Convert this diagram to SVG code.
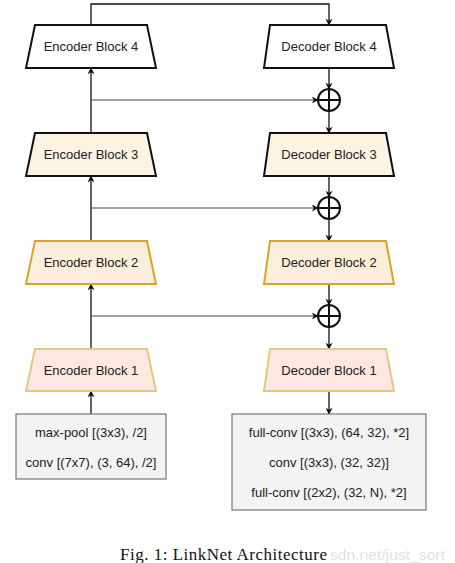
<svg xmlns="http://www.w3.org/2000/svg" width="455" height="563" viewBox="0 0 455 563">
<defs>
<style>
.lbl{font-family:"Liberation Sans",Arial,sans-serif;font-size:13px;fill:#222;text-anchor:middle;dominant-baseline:central}
.b4{fill:#ffffff;stroke:#111;stroke-width:2}
.b3{fill:#fdf3e3;stroke:#111;stroke-width:2}
.b2{fill:#fbeedb;stroke:#d9a326;stroke-width:2}
.b1{fill:#fce8e0;stroke:#e5c77f;stroke-width:2}
.box{fill:#f3f3f3;stroke:#777;stroke-width:1.2}
.con{fill:none;stroke:#111;stroke-width:1.3}
.skip{fill:none;stroke:#444;stroke-width:1.2}
.plus{fill:none;stroke:#111;stroke-width:2}
</style>
<marker id="ah" viewBox="0 0 10 10" refX="9" refY="5" markerWidth="7" markerHeight="7" markerUnits="userSpaceOnUse" orient="auto">
<path d="M0,0 L10,5 L0,10 L3,5 z" fill="#111"/>
</marker>
</defs>
<rect width="455" height="563" fill="#fff"/>
<g id="connectors">
<path class="con" d="M91,25 V4 H329 V25" marker-end="url(#ah)"/>
<path class="con" d="M91,133 V68" marker-end="url(#ah)"/>
<path class="con" d="M91,241 V176" marker-end="url(#ah)"/>
<path class="con" d="M91,349 V284" marker-end="url(#ah)"/>
<path class="con" d="M91,414 V391" marker-end="url(#ah)"/>
<path class="skip" d="M91,100 H318" marker-end="url(#ah)"/>
<path class="skip" d="M91,208 H318" marker-end="url(#ah)"/>
<path class="skip" d="M91,316 H318" marker-end="url(#ah)"/>
<path class="con" d="M329,68 V89" marker-end="url(#ah)"/>
<path class="con" d="M329,111 V133" marker-end="url(#ah)"/>
<path class="con" d="M329,176 V197" marker-end="url(#ah)"/>
<path class="con" d="M329,219 V241" marker-end="url(#ah)"/>
<path class="con" d="M329,284 V305" marker-end="url(#ah)"/>
<path class="con" d="M329,327 V349" marker-end="url(#ah)"/>
<path class="con" d="M329,391 V414" marker-end="url(#ah)"/>
</g>
<g id="enc4"><path class="b4" d="M35,25 H147 L156,68 H26 Z"/><text class="lbl" x="91" y="46.5">Encoder Block 4</text></g>
<g id="dec4"><path class="b4" d="M270,25 H386 L394,68 H264 Z"/><text class="lbl" x="329" y="46.5">Decoder Block 4</text></g>
<g id="enc3"><path class="b3" d="M35,133 H147 L156,176 H26 Z"/><text class="lbl" x="91" y="154.5">Encoder Block 3</text></g>
<g id="dec3"><path class="b3" d="M270,133 H386 L394,176 H264 Z"/><text class="lbl" x="329" y="154.5">Decoder Block 3</text></g>
<g id="enc2"><path class="b2" d="M35,241 H147 L156,284 H26 Z"/><text class="lbl" x="91" y="262.5">Encoder Block 2</text></g>
<g id="dec2"><path class="b2" d="M270,241 H386 L394,284 H264 Z"/><text class="lbl" x="329" y="262.5">Decoder Block 2</text></g>
<g id="enc1"><path class="b1" d="M35,349 H147 L156,391 H26 Z"/><text class="lbl" x="91" y="370">Encoder Block 1</text></g>
<g id="dec1"><path class="b1" d="M270,349 H386 L394,391 H264 Z"/><text class="lbl" x="329" y="370">Decoder Block 1</text></g>
<g id="add4"><circle class="plus" cx="329" cy="100" r="11"/><path class="plus" d="M318,100 H340 M329,89 V111"/></g>
<g id="add3"><circle class="plus" cx="329" cy="208" r="11"/><path class="plus" d="M318,208 H340 M329,197 V219"/></g>
<g id="add2"><circle class="plus" cx="329" cy="316" r="11"/><path class="plus" d="M318,316 H340 M329,305 V327"/></g>
<g id="input">
<rect class="box" x="16" y="414" width="150" height="65"/>
<text class="lbl" x="91" y="432">max-pool [(3x3), /2]</text>
<text class="lbl" x="91" y="462">conv [(7x7), (3, 64), /2]</text>
</g>
<g id="output">
<rect class="box" x="232" y="414" width="194" height="96"/>
<text class="lbl" x="329" y="432">full-conv [(3x3), (64, 32), *2]</text>
<text class="lbl" x="329" y="462">conv [(3x3), (32, 32)]</text>
<text class="lbl" x="329" y="492">full-conv [(2x2), (32, N), *2]</text>
</g>
<text x="330" y="560" font-family="Liberation Sans,Arial,sans-serif" font-size="15" fill="#e2e2e2" textLength="115" lengthAdjust="spacingAndGlyphs">sdn.net/just_sort</text>
<text x="120" y="560" font-family="Liberation Serif,'Times New Roman',serif" font-size="17" fill="#111" textLength="207" lengthAdjust="spacing">Fig. 1: LinkNet Architecture</text>
</svg>
